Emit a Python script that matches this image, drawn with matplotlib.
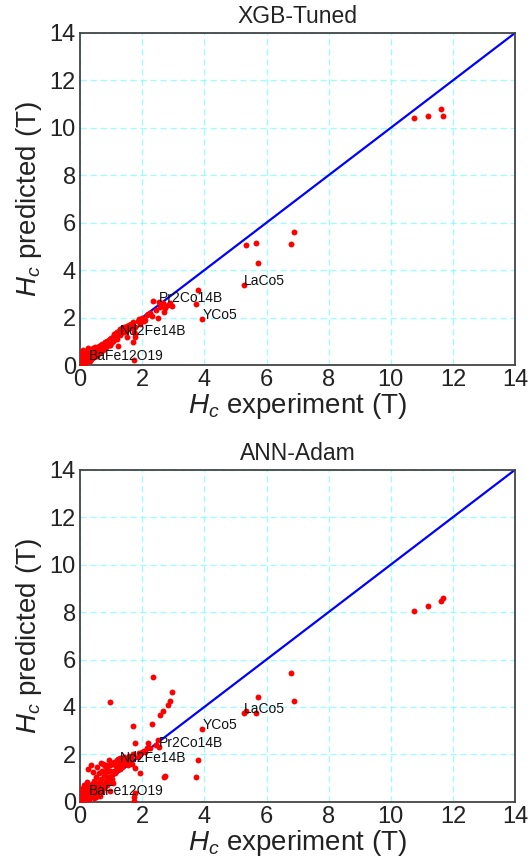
import matplotlib
matplotlib.use('Agg')
import matplotlib.pyplot as plt

plt.rcParams.update({
    'font.family': 'Liberation Sans',
    'mathtext.fontset': 'custom',
    'mathtext.rm': 'Liberation Sans',
    'mathtext.it': 'Liberation Sans:italic',
    'text.color': '#222222',
})

# ─── Data: experimental vs predicted coercivity (T) ─────────
hc_exp = [
    10.75, 11.19, 11.61, 11.68, 6.79, 6.88, 5.73, 5.65, 5.34, 5.28,
    3.93, 3.81, 3.73, 2.54, 1.29, 0.29,
    2.36, 2.95, 2.90, 2.84, 2.68, 2.57, 2.74, 2.70, 2.52, 2.33,
    2.20, 2.25, 2.09, 1.93, 1.77, 1.78, 1.72, 1.75, 1.76, 1.74,
    0.97, 1.50, 1.23,
    0.02, 0.05, 0.06, 0.08, 0.10, 0.12, 0.14, 0.15, 0.18, 0.20,
    0.22, 0.24, 0.25, 0.28, 0.30, 0.32, 0.34, 0.36, 0.38, 0.40,
    0.42, 0.44, 0.46, 0.48, 0.50, 0.52, 0.54, 0.56, 0.58, 0.60,
    0.62, 0.64, 0.66, 0.68, 0.70, 0.72, 0.74, 0.76, 0.78, 0.80,
    0.82, 0.84, 0.86, 0.88, 0.90, 0.92, 0.94, 0.96, 0.98, 1.00,
    1.02, 1.05, 1.08, 1.10, 1.12, 1.15, 1.18, 1.20, 1.22, 1.25,
    1.28, 1.30, 1.33, 1.36, 1.40, 1.43, 1.46, 1.50, 1.53, 1.56,
    1.60, 1.63, 1.66, 1.70, 1.85, 1.90, 2.00, 2.05, 2.15, 2.45,
    0.03, 0.07, 0.09, 0.11, 0.13, 0.16, 0.19, 0.21, 0.26, 0.35,
    0.45, 0.55, 0.65, 0.75, 0.85, 0.95, 1.05,
]
hc_xgb = [
    10.40, 10.48, 10.80, 10.48, 5.09, 5.60, 4.32, 5.16, 5.05, 3.36,
    1.94, 3.18, 2.59, 2.66, 1.25, 0.21,
    2.71, 2.49, 2.60, 2.55, 2.60, 2.45, 2.39, 2.25, 1.97, 2.07,
    2.15, 2.20, 1.90, 1.75, 1.62, 1.19, 0.98, 0.21, 1.30, 1.40,
    0.85, 1.19, 0.82,
    0.05, 0.30, 0.10, 0.45, 0.15, 0.55, 0.25, 0.10, 0.35, 0.60,
    0.20, 0.45, 0.70, 0.30, 0.55, 0.15, 0.40, 0.65, 0.30, 0.50,
    0.70, 0.35, 0.55, 0.75, 0.45, 0.60, 0.40, 0.70, 0.55, 0.80,
    0.50, 0.65, 0.85, 0.60, 0.75, 0.90, 0.65, 0.80, 0.70, 0.95,
    0.75, 0.85, 1.00, 0.80, 0.95, 1.05, 0.90, 1.10, 1.00, 1.15,
    0.95, 1.20, 1.05, 1.30, 1.15, 1.35, 1.10, 1.40, 1.25, 1.45,
    1.30, 1.50, 1.35, 1.55, 1.40, 1.60, 1.45, 1.65, 1.50, 1.70,
    1.55, 1.75, 1.60, 1.80, 1.85, 1.95, 2.00, 1.85, 2.10, 2.30,
    0.55, 0.20, 0.65, 0.40, 0.05, 0.50, 0.15, 0.40, 0.50, 0.25,
    0.60, 0.65, 0.55, 0.70, 0.90, 0.85, 1.00,
]
hc_ann = [
    8.05, 8.24, 8.45, 8.59, 5.43, 4.26, 4.40, 3.74, 3.81, 3.74,
    3.05, 1.78, 1.05, 2.33, 1.70, 0.30,
    5.25, 4.64, 4.23, 4.09, 3.81, 3.67, 1.07, 1.05, 2.60, 3.28,
    2.50, 2.26, 2.10, 1.21, 2.50, 1.42, 3.21, 0.05, 0.38, 0.20,
    4.19, 1.60, 1.40,
    0.10, 0.45, 0.25, 0.60, 0.05, 0.30, 0.70, 0.40, 0.15, 0.55,
    0.85, 0.30, 1.40, 0.10, 0.65, 0.45, 1.55, 0.25, 0.75, 0.50,
    1.25, 0.35, 0.90, 0.60, 0.20, 1.05, 0.70, 1.45, 0.45, 0.85,
    1.20, 0.55, 1.65, 0.95, 0.40, 1.30, 0.75, 1.10, 0.60, 1.50,
    0.90, 1.25, 0.70, 1.40, 1.05, 1.75, 0.85, 1.30, 1.55, 1.10,
    0.95, 1.60, 1.30, 1.70, 1.20, 1.50, 1.75, 1.35, 1.80, 1.55,
    1.40, 1.85, 1.60, 1.45, 1.75, 1.90, 1.65, 1.80, 1.55, 1.95,
    1.70, 1.85, 1.60, 2.00, 1.90, 2.05, 2.10, 2.15, 2.25, 2.40,
    0.20, 0.55, 0.35, 0.15, 0.50, 0.25, 0.65, 0.10, 0.40, 0.55,
    0.15, 0.30, 0.25, 1.60, 1.55, 0.45, 0.80,
]

# labelled compounds: index into the arrays above
label_names = ['LaCo5', 'YCo5', 'Pr2Co14B', 'Nd2Fe14B', 'BaFe12O19']
label_idx = [9, 10, 13, 14, 15]

panels = [('XGB-Tuned', hc_xgb), ('ANN-Adam', hc_ann)]
boxes = [[0.151, 0.578, 0.821, 0.384], [0.151, 0.073, 0.821, 0.384]]

fig = plt.figure(figsize=(5.3, 8.65), dpi=100)

for (title, pred), box in zip(panels, boxes):
    ax = fig.add_axes(box)
    ax.grid(True, color='#55ffff', alpha=0.6, linestyle=(0, (5, 3)), linewidth=0.9)
    ax.set_axisbelow(True)
    ax.plot([0, 14], [0, 14], color='#0000ff', linewidth=1.6, zorder=2)
    ax.scatter(hc_exp, pred, s=18, color='#ff0000', linewidths=0, zorder=3)
    for name, i in zip(label_names, label_idx):
        ax.text(hc_exp[i], pred[i], name, fontsize=10, color='#111111', zorder=4)

    ax.set_xlim(0, 14)
    ax.set_ylim(0, 14)
    ax.set_xticks(range(0, 15, 2))
    ax.set_yticks(range(0, 15, 2))
    ax.tick_params(length=0, labelsize=17, pad=3, colors='#222222')
    for sp in ax.spines.values():
        sp.set_color('#444444')
        sp.set_linewidth(1.3)
    ax.set_title(title, fontsize=16.5, pad=7, color='#222222')
    ax.set_xlabel('$H_c$ experiment (T)', fontsize=20, labelpad=0, color='#222222')
    ax.set_ylabel('$H_c$ predicted (T)', fontsize=20, labelpad=4, color='#222222')

fig.savefig('out.png', dpi=100)
